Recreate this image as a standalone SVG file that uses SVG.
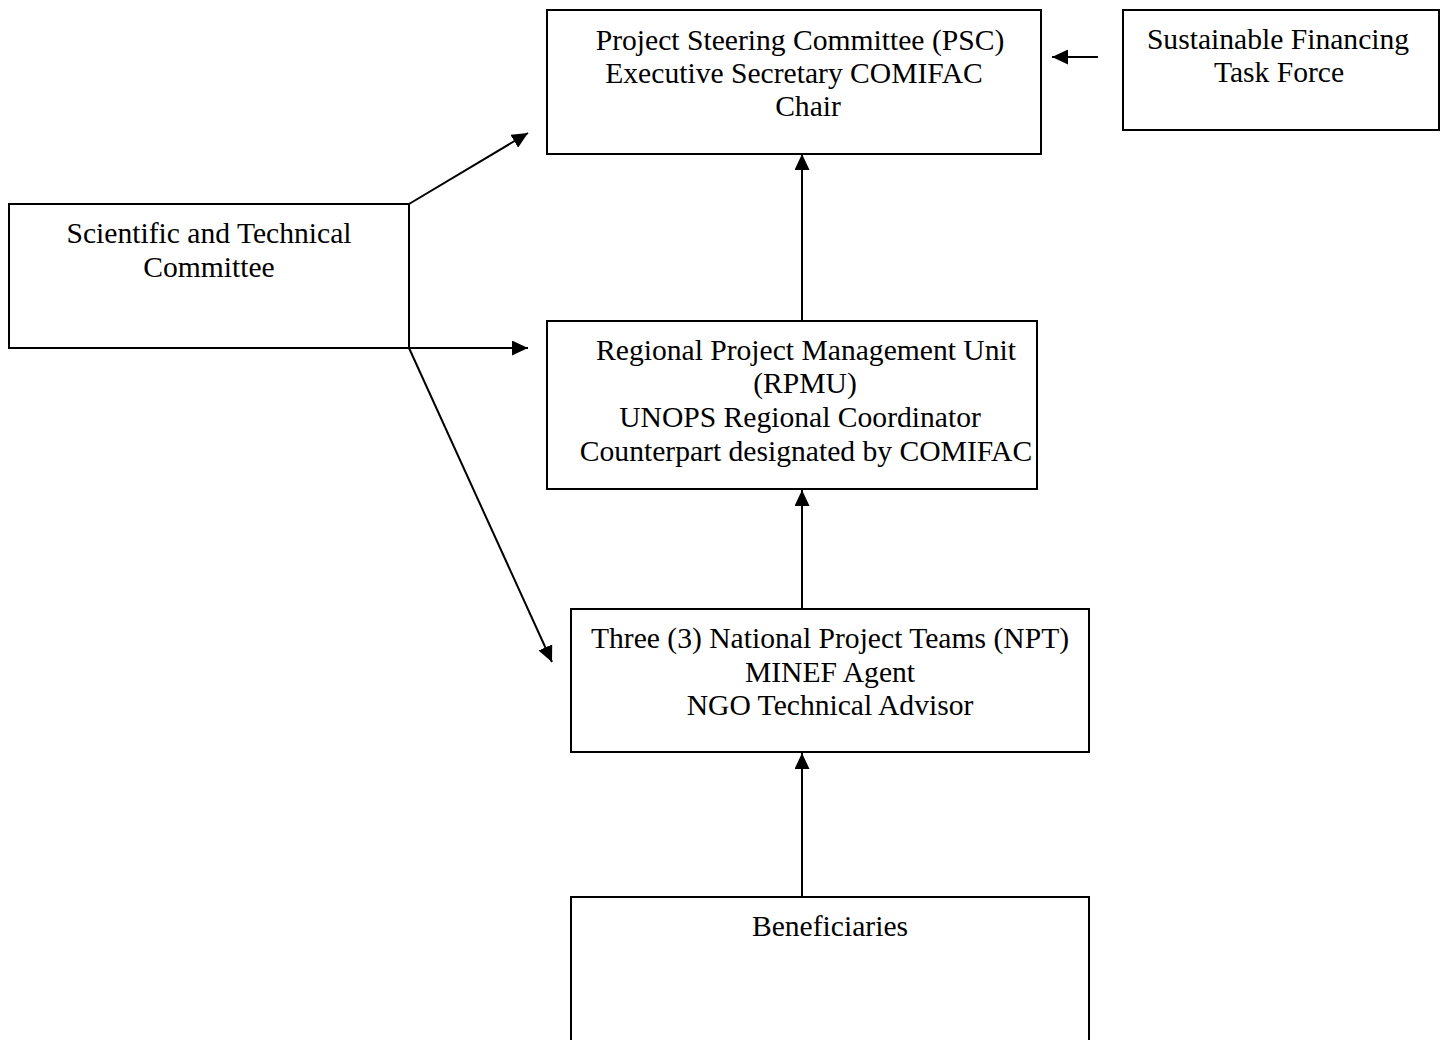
<svg xmlns="http://www.w3.org/2000/svg" width="1442" height="1040" viewBox="0 0 1442 1040">
<defs>
<style>
.box{fill:#fff;stroke:#000;stroke-width:2}
.t{font-family:"Liberation Serif","Times New Roman",serif;font-size:29.6px;fill:#000;text-anchor:middle}
.c{stroke:#000;stroke-width:2;fill:none;marker-end:url(#ah)}
</style>
<marker id="ah" markerWidth="16" markerHeight="15" refX="16" refY="7.5" orient="auto" markerUnits="userSpaceOnUse" viewBox="0 0 16 15">
<path d="M0,0 L16,7.5 L0,15 Z" fill="#000"/>
</marker>
</defs>
<rect width="1442" height="1040" fill="#fff"/>
<g id="connectors">
<line class="c" x1="409" y1="204" x2="528" y2="133"/>
<line class="c" x1="409" y1="348" x2="528" y2="348"/>
<line class="c" x1="409" y1="348" x2="552" y2="662"/>
<line class="c" x1="802" y1="321" x2="802" y2="154"/>
<line class="c" x1="802" y1="609" x2="802" y2="490"/>
<line class="c" x1="802" y1="897" x2="802" y2="753"/>
<line class="c" x1="1098" y1="57" x2="1052" y2="57"/>
</g>
<g id="psc">
<rect class="box" x="547" y="10" width="494" height="144"/>
<text class="t" x="800" y="50">Project Steering Committee (PSC)</text>
<text class="t" x="794" y="83">Executive Secretary COMIFAC</text>
<text class="t" x="808" y="116">Chair</text>
</g>
<g id="sftf">
<rect class="box" x="1123" y="10" width="316" height="120"/>
<text class="t" x="1278" y="49">Sustainable Financing</text>
<text class="t" x="1279" y="82">Task Force</text>
</g>
<g id="stc">
<rect class="box" x="9" y="204" width="400" height="144"/>
<text class="t" x="209" y="243">Scientific and Technical</text>
<text class="t" x="209" y="277">Committee</text>
</g>
<g id="rpmu">
<rect class="box" x="547" y="321" width="490" height="168"/>
<text class="t" x="806" y="360">Regional Project Management Unit</text>
<text class="t" x="805" y="393">(RPMU)</text>
<text class="t" x="800" y="427">UNOPS Regional Coordinator</text>
<text class="t" x="806" y="461">Counterpart designated by COMIFAC</text>
</g>
<g id="npt">
<rect class="box" x="571" y="609" width="518" height="143"/>
<text class="t" x="830" y="648">Three (3) National Project Teams (NPT)</text>
<text class="t" x="830" y="682">MINEF Agent</text>
<text class="t" x="830" y="715">NGO Technical Advisor</text>
</g>
<g id="beneficiaries">
<rect class="box" x="571" y="897" width="518" height="160"/>
<text class="t" x="830" y="936">Beneficiaries</text>
</g>
</svg>
